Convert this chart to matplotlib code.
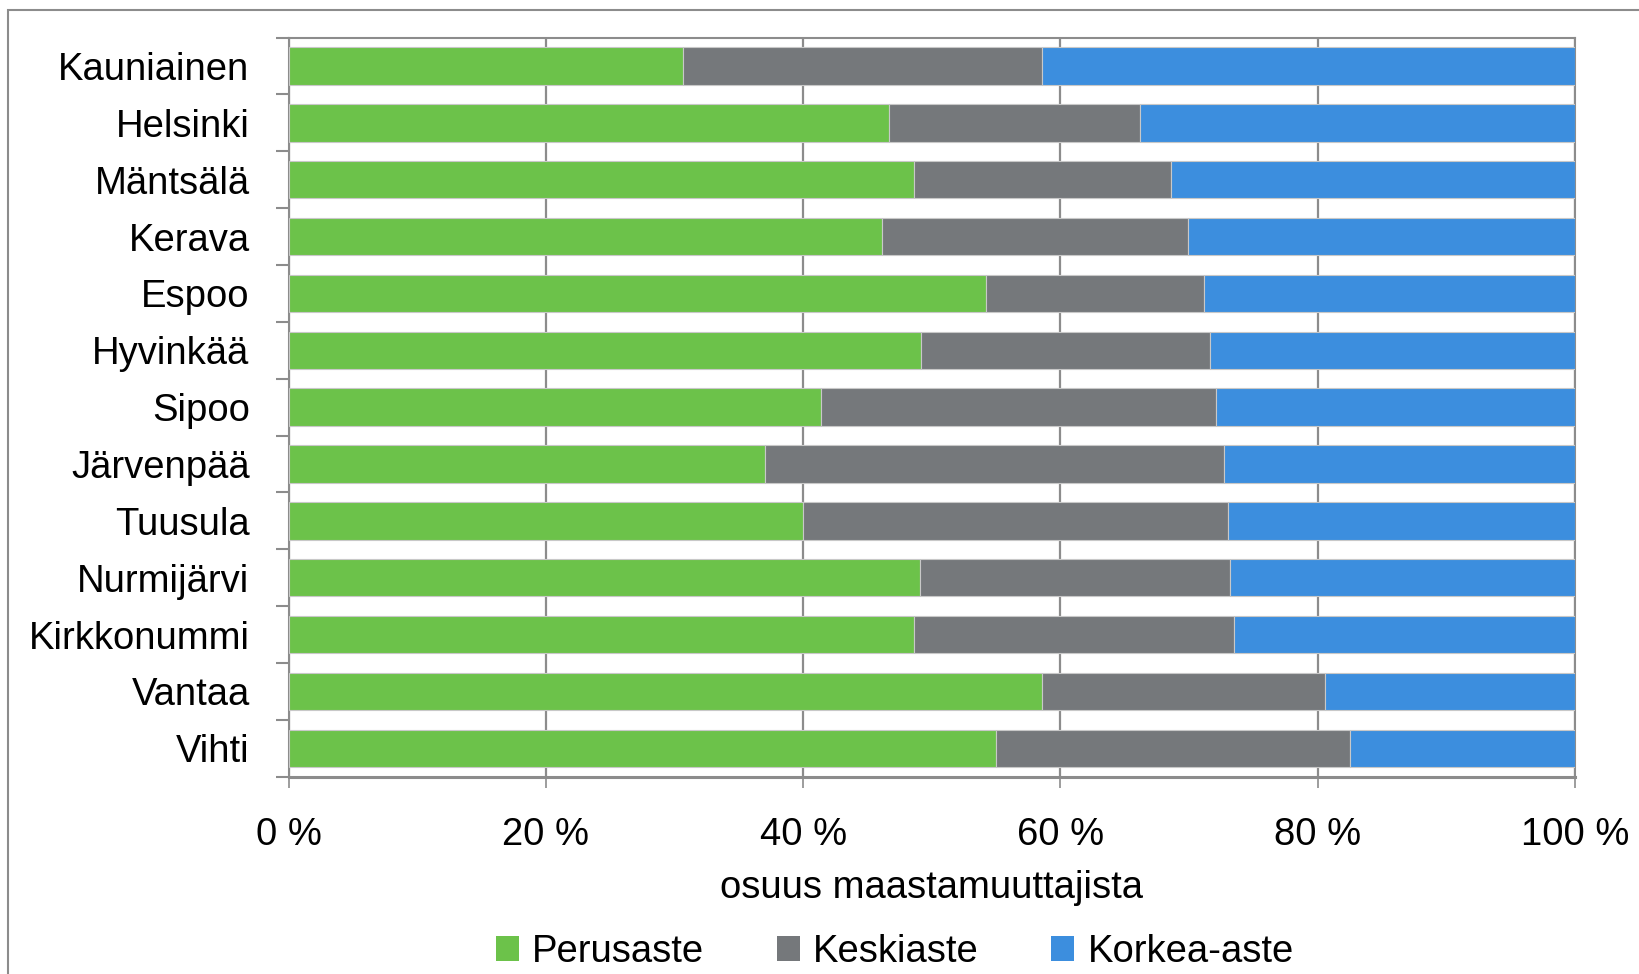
import matplotlib
matplotlib.use("Agg")
import matplotlib.pyplot as plt
from matplotlib.patches import Patch, Rectangle
import numpy as np

plt.rcParams['font.family'] = ['Liberation Sans', 'DejaVu Sans']

kunnat = ["Kauniainen", "Helsinki", "Mäntsälä", "Kerava", "Espoo", "Hyvinkää",
          "Sipoo", "Järvenpää", "Tuusula", "Nurmijärvi", "Kirkkonummi", "Vantaa", "Vihti"]
perusaste = [30.7, 46.7, 48.6, 46.1, 54.2, 49.2, 41.4, 37.0, 40.0, 49.1, 48.6, 58.6, 55.0]
keskiaste = [27.9, 19.5, 20.0, 23.8, 17.0, 22.4, 30.7, 35.7, 33.0, 24.1, 24.9, 22.0, 27.5]
korkea = [100 - p - k for p, k in zip(perusaste, keskiaste)]

sarjat = ["Perusaste", "Keskiaste", "Korkea-aste"]
varit = ["#6cc24a", "#75787b", "#3c8ede"]
xticks = [0, 20, 40, 60, 80, 100]

FS = 27.5
W, H = 1639, 974
fig = plt.figure(figsize=(W / 100, H / 100), dpi=100)

# outer chart frame (cut off at right/bottom in the original)
fig.patches.append(Rectangle((8 / W, -0.05), 1.2, 1 - 10 / H + 0.05, transform=fig.transFigure,
                             fill=False, edgecolor="#8c8c8c", linewidth=1.5))

ax = fig.add_axes([288.5 / W, 1 - 776.7 / H, (1575 - 288.5) / W, (776.7 - 37.6) / H])

y = np.arange(len(kunnat))
left = np.zeros(len(kunnat))
for vals, nimi, c in zip([perusaste, keskiaste, korkea], sarjat, varit):
    ax.barh(y, vals, left=left, height=0.66, color=c, edgecolor="#c8c8c8",
            linewidth=0.8, label=nimi, zorder=3)
    left += np.array(vals)

ax.set_xlim(0, 100)
ax.set_ylim(len(kunnat) - 0.5, -0.5)
ax.set_xticks(xticks)
ax.set_xticklabels([f"{t} %" for t in xticks])
ax.set_yticks(y)
ax.set_yticklabels(kunnat)
ax.set_yticks(np.arange(len(kunnat) + 1) - 0.5, minor=True)

ax.tick_params(axis="y", which="major", length=0, pad=28, labelsize=FS)
ax.tick_params(axis="y", which="minor", length=9.5, width=1.5, color="#8c8c8c")
ax.tick_params(axis="x", which="major", length=8, width=1.2, color="#8c8c8c", pad=21, labelsize=FS)

ax.grid(axis="x", color="#8c8c8c", linewidth=1.6, zorder=0)
for s in ax.spines.values():
    s.set_color("#8c8c8c")
    s.set_linewidth(1.5)
ax.spines["bottom"].set_linewidth(2.2)

ax.set_xlabel("osuus maastamuuttajista", fontsize=FS, labelpad=12)

handles = [Patch(facecolor=c, edgecolor="none") for c in varit]
fig.legend(handles, sarjat, loc="center", bbox_to_anchor=(0.546, 1 - 952 / H), ncol=3,
           frameon=False, fontsize=FS, handlelength=0.6, handleheight=0.6,
           handletextpad=0.35, columnspacing=1.9)

fig.savefig("out.png", dpi=100)
